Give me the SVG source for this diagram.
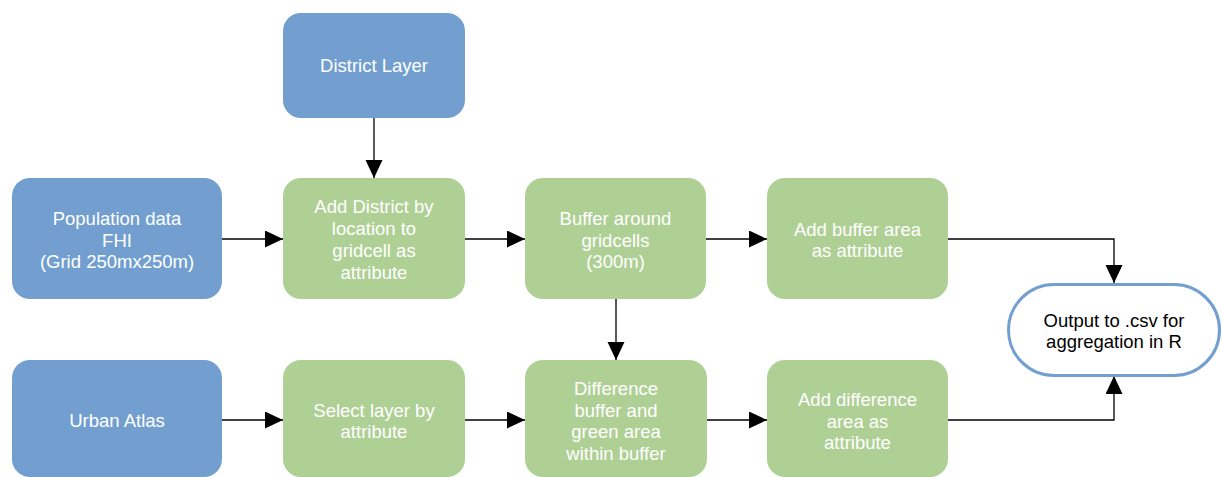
<svg xmlns="http://www.w3.org/2000/svg" width="1222" height="477" viewBox="0 0 1222 477">
<style>
.blue{fill:#729fcf}
.green{fill:#afd095}
.t{font-family:"Liberation Sans",Arial,sans-serif;font-size:18.5px;fill:#ffffff;text-anchor:middle}
.tk{font-family:"Liberation Sans",Arial,sans-serif;font-size:18.5px;fill:#000000;text-anchor:middle}
.c{fill:none;stroke:#000;stroke-width:1.3}
</style>
<defs>
<marker id="ah" markerUnits="userSpaceOnUse" markerWidth="20" markerHeight="18" refX="18" refY="8.5" orient="auto">
<path d="M0,0 L18,8.5 L0,17 Z" fill="#000"/>
</marker>
</defs>
<rect width="1222" height="477" fill="#ffffff"/>
<g id="connectors">
<path class="c" d="M374,118 V178" marker-end="url(#ah)"/>
<path class="c" d="M222,239 H283" marker-end="url(#ah)"/>
<path class="c" d="M465,239 H525" marker-end="url(#ah)"/>
<path class="c" d="M706,239 H767" marker-end="url(#ah)"/>
<path class="c" d="M948,239 H1114 V283" marker-end="url(#ah)"/>
<path class="c" d="M616,299 V360" marker-end="url(#ah)"/>
<path class="c" d="M222,420 H283" marker-end="url(#ah)"/>
<path class="c" d="M465,420 H525" marker-end="url(#ah)"/>
<path class="c" d="M707,420 H767" marker-end="url(#ah)"/>
<path class="c" d="M948,420 H1114 V376" marker-end="url(#ah)"/>
</g>
<g id="district-layer">
<rect class="blue" x="283" y="13" width="182" height="105" rx="18"/>
<text class="t" x="374" y="72">District Layer</text>
</g>
<g id="population">
<rect class="blue" x="12" y="178" width="210" height="121" rx="18"/>
<text class="t" x="117" y="225">Population data</text>
<text class="t" x="117" y="246.7">FHI</text>
<text class="t" x="117" y="268.4">(Grid 250mx250m)</text>
</g>
<g id="add-district">
<rect class="green" x="283" y="178" width="182" height="121" rx="18"/>
<text class="t" x="374" y="213.4">Add District by</text>
<text class="t" x="374" y="235.1">location to</text>
<text class="t" x="374" y="256.8">gridcell as</text>
<text class="t" x="374" y="278.5">attribute</text>
</g>
<g id="buffer">
<rect class="green" x="525" y="178" width="181" height="121" rx="18"/>
<text class="t" x="615.5" y="224.8">Buffer around</text>
<text class="t" x="615.5" y="246.5">gridcells</text>
<text class="t" x="615.5" y="268.2">(300m)</text>
</g>
<g id="add-buffer-area">
<rect class="green" x="767" y="178" width="181" height="121" rx="18"/>
<text class="t" x="857.5" y="235.6">Add buffer area</text>
<text class="t" x="857.5" y="257.3">as attribute</text>
</g>
<g id="output">
<rect x="1008.5" y="284.5" width="211" height="91" rx="45.5" fill="#ffffff" stroke="#729fcf" stroke-width="3"/>
<text class="tk" x="1114" y="326.6">Output to .csv for</text>
<text class="tk" x="1114" y="348.3">aggregation in R</text>
</g>
<g id="urban-atlas">
<rect class="blue" x="12" y="360" width="210" height="117" rx="18"/>
<text class="t" x="117" y="427">Urban Atlas</text>
</g>
<g id="select-layer">
<rect class="green" x="283" y="360" width="182" height="117" rx="18"/>
<text class="t" x="374" y="416.6">Select layer by</text>
<text class="t" x="374" y="438.3">attribute</text>
</g>
<g id="difference">
<rect class="green" x="525" y="360" width="182" height="117" rx="18"/>
<text class="t" x="616" y="395">Difference</text>
<text class="t" x="616" y="416.7">buffer and</text>
<text class="t" x="616" y="438.4">green area</text>
<text class="t" x="616" y="460">within buffer</text>
</g>
<g id="add-difference">
<rect class="green" x="767" y="360" width="181" height="117" rx="18"/>
<text class="t" x="857.5" y="405.8">Add difference</text>
<text class="t" x="857.5" y="427.5">area as</text>
<text class="t" x="857.5" y="449.2">attribute</text>
</g>
</svg>
